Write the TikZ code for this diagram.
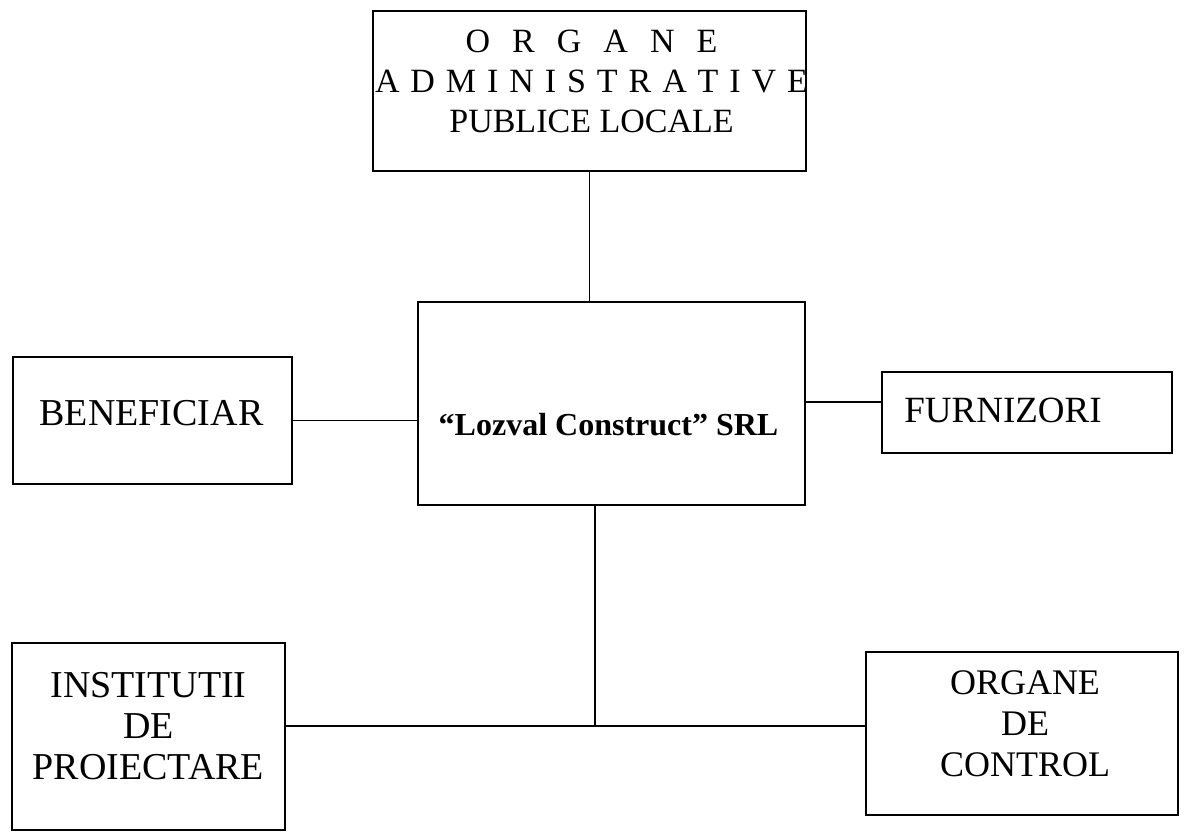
\documentclass[tikz,border=0pt]{standalone}
\usepackage{fontspec}
\setmainfont{Liberation Serif}
\begin{document}
\begin{tikzpicture}[x=1pt,y=-1pt,
  box/.style={draw=black, line width=1.7pt, rectangle, inner sep=0pt},
  txt/.style={font=\fontsize{36}{41}\selectfont, align=center, inner sep=0pt},
  conn/.style={draw=black, line width=1.3pt}]
\useasboundingbox[fill=white] (0,0) rectangle (1189,832);
% boxes
\node[box, minimum width=433pt, minimum height=160pt,
  label={[txt, font=\fontsize{34}{40}\selectfont, yshift=10pt, xshift=2pt]center:{\makebox[252pt][s]{O\hfil R\hfil G\hfil A\hfil N\hfil E}\\
  \makebox[433pt][s]{A\hfil D\hfil M\hfil I\hfil N\hfil I\hfil S\hfil T\hfil R\hfil A\hfil T\hfil I\hfil V\hfil E}\\
  PUBLICE LOCALE}}] (top) at (589.5,91) {};
\node[box, minimum width=387pt, minimum height=203pt,
  label={[txt, font=\fontsize{32}{38}\bfseries, yshift=-21pt, xshift=-3pt]center:{“Lozval Construct” SRL}}] (firm) at (611.5,403.5) {};
\node[box, minimum width=279pt, minimum height=127pt,
  label={[txt, font=\fontsize{38}{41}\selectfont, yshift=7pt, xshift=-1pt]center:BENEFICIAR}] (benef) at (152.5,420.5) {};
\node[box, minimum width=290pt, minimum height=81pt,
  label={[txt, font=\fontsize{37}{41}\selectfont, yshift=2pt, xshift=-24pt]center:FURNIZORI}] (furn) at (1027,412.5) {};
\node[box, minimum width=273pt, minimum height=187pt,
  label={[txt, font=\fontsize{38}{41}\selectfont, yshift=10pt]center:{INSTITUTII\\DE\\PROIECTARE}}] (inst) at (148.5,736.5) {};
\node[box, minimum width=312pt, minimum height=163pt,
  label={[txt, yshift=10pt, xshift=3pt]center:{ORGANE\\DE\\CONTROL}}] (ctrl) at (1022,733.5) {};
% connectors
\coordinate (jn) at (595,726);
\draw[conn] (top.south) -- (top.south |- firm.north);
\draw[conn] (benef.east) -- (benef.east -| firm.west);
\draw[conn] (firm.east |- 0,402) -- (furn.west |- 0,402);
\draw[conn] (firm.south -| jn) -- (jn);
\draw[conn] (jn -| inst.east) -- (jn -| ctrl.west);
\end{tikzpicture}
\end{document}
